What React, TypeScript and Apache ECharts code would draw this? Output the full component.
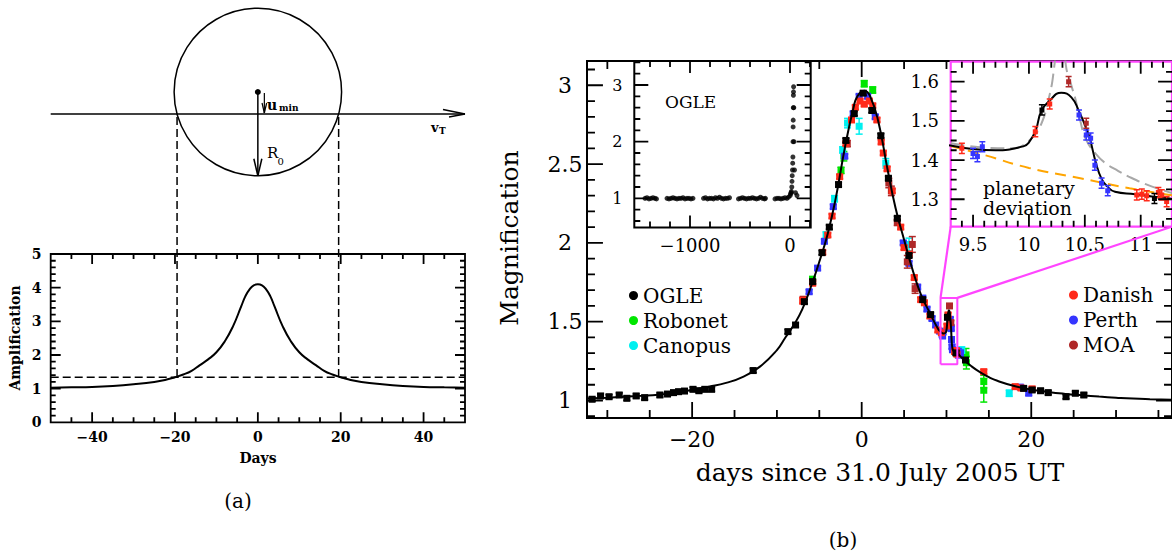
import React, { useEffect, useRef } from "react";
import * as echarts from "echarts";

const SERIF = '"DejaVu Serif", serif';

// ---------- Panel (a): point-lens amplification curve ----------
const ampDays = [-50, -45, -40, -35, -30, -25, -22, -20, -18, -16, -14, -12, -10, -8, -6, -4, -3, -2, -1, 0, 1, 2, 3, 4, 6, 8, 10, 12, 14, 16, 18, 20, 22, 25, 30, 35, 40, 45, 50];
const ampValues = [1.03, 1.04, 1.05, 1.08, 1.13, 1.2, 1.27, 1.34, 1.42, 1.53, 1.7, 1.87, 2.08, 2.4, 2.85, 3.45, 3.75, 3.95, 4.07, 4.1, 4.07, 3.95, 3.75, 3.45, 2.85, 2.4, 2.08, 1.87, 1.7, 1.53, 1.42, 1.34, 1.27, 1.2, 1.13, 1.08, 1.05, 1.04, 1.03];
const ampThreshold = 1.34;
const ampCrossDays = [-19.5, 19.5];
const AMP_X = [-50, 50];
const AMP_Y = [0, 5];
const ampXMajor = [-40, -20, 0, 20, 40];
const ampXMinor = [-45, -35, -30, -25, -15, -10, -5, 5, 10, 15, 25, 30, 35, 45];
const ampYLabels = [0, 1, 2, 3, 4, 5];
const ampYMajor = [1, 2, 3, 4];
const ampYMinor = [0.2, 0.4, 0.6, 0.8, 1.2, 1.4, 1.6, 1.8, 2.2, 2.4, 2.6, 2.8, 3.2, 3.4, 3.6, 3.8, 4.2, 4.4, 4.6, 4.8];

// ---------- Panel (b): OGLE-2005-BLG-390 light curve ----------
const MAIN_X = [-32.4, 36.6];
const MAIN_Y = [0.889, 3.154];
const mainXMajor = [-20, 0, 20];
const mainXMinor = [-30, -25, -15, -10, -5, 5, 10, 15, 25, 30, 35];
const mainYMajor = [1, 1.5, 2, 2.5, 3];
const mainYMinor = [0.9, 1.1, 1.2, 1.3, 1.4, 1.6, 1.7, 1.8, 1.9, 2.1, 2.2, 2.3, 2.4, 2.6, 2.7, 2.8, 2.9, 3.1];

// best-fit model (with planetary perturbation)
const modelDays = [-32.4, -30, -28, -26, -24, -22, -20, -18, -16, -14, -12, -10, -9, -8, -7, -6, -5, -4, -3, -2, -1, -0.5, 0.3, 1, 2, 3, 4, 5, 6, 7, 8, 9, 9.3, 9.5, 9.7, 9.95, 10.0, 10.06, 10.11, 10.18, 10.29, 10.38, 10.45, 10.5, 10.54, 10.6, 10.65, 10.7, 10.77, 10.95, 11.1, 11.26, 12, 13, 14, 15, 16, 18, 20, 22, 24, 26, 28, 30, 32, 34, 36.6];
const modelMag = [1.012, 1.018, 1.024, 1.03, 1.037, 1.048, 1.068, 1.088, 1.112, 1.15, 1.215, 1.32, 1.4, 1.48, 1.58, 1.72, 1.88, 2.06, 2.3, 2.6, 2.85, 2.93, 2.965, 2.93, 2.76, 2.48, 2.22, 2.02, 1.83, 1.67, 1.56, 1.455, 1.437, 1.428, 1.425, 1.435, 1.445, 1.475, 1.525, 1.55, 1.572, 1.56, 1.523, 1.49, 1.46, 1.392, 1.352, 1.333, 1.319, 1.313, 1.307, 1.302, 1.26, 1.215, 1.178, 1.148, 1.125, 1.092, 1.07, 1.054, 1.042, 1.033, 1.025, 1.018, 1.012, 1.008, 1.004];

// single-lens fit without planet, and the same fit forced through the peak
const noPlanetDays = [9.3, 9.6, 10.0, 10.47, 10.9, 11.28];
const noPlanetMag = [1.436, 1.413, 1.38, 1.353, 1.328, 1.31];
const peakFitDays = [9.3, 9.6, 9.85, 9.95, 10.03, 10.1, 10.18, 10.226, 10.285, 10.33, 10.38, 10.418, 10.46, 10.507, 10.6, 10.685, 10.8, 10.892, 11.05, 11.188, 11.28];
const peakFitMag = [1.443, 1.432, 1.43, 1.438, 1.458, 1.485, 1.56, 1.638, 1.8, 1.643, 1.59, 1.553, 1.5, 1.455, 1.415, 1.392, 1.372, 1.358, 1.338, 1.324, 1.316];

// photometry: [day, magnification, error]
const DEFAULT_ERR = 0.013;
const ogleData = [
  [-31.8, 1.008], [-30.8, 1.029], [-29.8, 1.024], [-28.6, 1.035], [-27.7, 1.014], [-26.6, 1.029], [-25.6, 1.018],
  [-23.8, 1.035], [-22.9, 1.041], [-22.2, 1.05], [-21.6, 1.056], [-20.9, 1.06], [-19.9, 1.071], [-19.2, 1.062], [-18.5, 1.071], [-17.7, 1.071],
  [-12.8, 1.19], [-8.7, 1.437], [-7.8, 1.479], [-6.76, 1.627], [-5.78, 1.754], [-4.68, 1.938], [-3.82, 2.1], [-2.73, 2.37], [-1.86, 2.65],
  [-0.88, 2.82], [0.18, 2.95], [1.2, 2.84], [2.26, 2.68], [3.15, 2.41], [4.2, 2.156], [5.58, 1.92], [7.2, 1.64], [8.13, 1.545],
  [10.116, 1.528], [11.123, 1.302], [12.24, 1.257], [19.1, 1.077], [20.1, 1.067], [21.1, 1.062], [22.0, 1.05], [24.1, 1.024], [25.2, 1.046], [26.2, 1.035],
];
const danishData = [
  [-6.96, 1.633, 0.02], [-5.78, 1.744], [-4.6, 1.94], [-4.0, 2.05], [-3.5, 2.17], [-2.6, 2.42], [-1.86, 2.63], [-1.2, 2.78], [-0.75, 2.86], [-0.2, 2.9],
  [0.3, 2.88], [0.9, 2.9], [1.3, 2.87], [1.8, 2.78], [2.3, 2.64], [2.55, 2.57], [3.0, 2.47], [3.6, 2.33], [4.6, 2.1], [5.0, 1.97], [5.6, 1.93],
  [6.2, 1.78], [6.96, 1.64], [7.4, 1.62], [8.05, 1.536], [8.99, 1.447], [9.4, 1.43],
  [10.057, 1.4725], [10.186, 1.543], [10.965, 1.311], [11.01, 1.313], [11.054, 1.309], [11.158, 1.317], [11.188, 1.311], [11.232, 1.294],
  [14.4, 1.183], [18.1, 1.088], [18.8, 1.08], [20.1, 1.074],
];
const perthData = [
  [-6.2, 1.69], [-5.2, 1.84], [-4.4, 2.01], [-3.35, 2.23], [-2.0, 2.55], [-1.0, 2.82], [-0.3, 2.93], [0.7, 2.93], [1.6, 2.8],
  [4.9, 2.0], [5.58, 1.87], [6.6, 1.72], [7.2, 1.65], [7.7, 1.58], [8.3, 1.52], [8.72, 1.479], [9.2, 1.44],
  [9.5, 1.417], [9.539, 1.409], [9.583, 1.434], [10.448, 1.515], [10.513, 1.464], [10.552, 1.456], [10.59, 1.387], [10.65, 1.341], [10.705, 1.322],
  [11.4, 1.3, 0.03], [11.65, 1.3, 0.02], [18.7, 1.085], [19.7, 1.046],
];
const robonetData = [
  [-5.8, 1.77], [-2.44, 2.46, 0.02], [-2.1, 2.55, 0.03], [0.3, 3.01, 0.02], [1.3, 2.97, 0.02],
  [12.3, 1.29, 0.04], [12.35, 1.24, 0.04], [14.4, 1.12, 0.04], [14.4, 1.065, 0.075],
];
const canopusData = [
  [-4.2, 2.05, 0.02], [-3.2, 2.28, 0.02], [-2.25, 2.59, 0.02], [-1.67, 2.76, 0.03], [-0.3, 2.74, 0.05], [2.84, 2.505, 0.03],
  [5.58, 1.99, 0.04], [11.8, 1.32, 0.02], [17.4, 1.046, 0.02],
];
const moaData = [
  [-6.9, 1.64, 0.02], [-1.7, 2.63, 0.02], [3.2, 2.38, 0.03], [3.5, 2.33, 0.03], [4.2, 2.13, 0.02], [5.38, 1.88, 0.04],
  [5.97, 1.99, 0.05], [6.3, 1.71, 0.03], [10.355, 1.6], [10.513, 1.494],
];

// full OGLE record (inset)
const OGLE_X = [-1557, 207];
const OGLE_Y = [0.485, 3.424];
const ogleXMajor = [-1000, 0];
const ogleXMinor = [-1400, -1200, -800, -600, -400, -200, 200];
const ogleYMajor = [1, 2, 3];
const ogleYMinor = [0.6, 0.8, 1.2, 1.4, 1.6, 1.8, 2.2, 2.4, 2.6, 2.8, 3.2, 3.4];
const ogleRecord = [
  [-1450, 1.0], [-1430, 1.01], [-1410, 0.99], [-1390, 1.0], [-1370, 1.01], [-1350, 1.0], [-1335, 0.99],
  [-1230, 1.0], [-1210, 0.99], [-1190, 1.0], [-1170, 1.01], [-1150, 1.0], [-1130, 0.99], [-1110, 1.0], [-1090, 1.0], [-1070, 1.01], [-1050, 0.99], [-1030, 1.0], [-1010, 1.0], [-990, 0.99], [-970, 1.0],
  [-865, 1.0], [-845, 1.01], [-825, 0.99], [-805, 1.0], [-785, 1.0], [-765, 0.99], [-745, 1.01], [-725, 1.0], [-705, 1.02], [-685, 1.0], [-665, 0.99], [-645, 1.0], [-625, 1.0], [-605, 1.01],
  [-515, 0.99], [-495, 1.0], [-475, 1.01], [-455, 1.0], [-435, 0.99], [-415, 1.0], [-395, 1.0], [-375, 1.01], [-355, 1.0], [-335, 0.99], [-315, 1.0], [-295, 1.02], [-275, 1.0], [-255, 0.99], [-245, 1.0],
  [-150, 0.99], [-130, 1.0], [-110, 1.0], [-90, 0.99], [-70, 1.0], [-50, 1.01], [-30, 1.0], [-15, 1.02],
  [2, 1.05], [6, 1.08], [10, 1.1], [14, 1.12], [18, 1.2], [20, 1.3], [22, 1.4], [25, 1.5], [27, 1.62], [29, 1.73], [30, 2.0],
  [31, 2.26], [32, 2.38], [33, 2.6], [34, 2.82], [35, 2.88], [36, 2.97], [38, 2.6], [40, 2.0], [45, 1.5], [55, 1.1], [70, 1.05],
];

// zoom on the planetary deviation (inset)
const INSET_X = [9.3, 11.28];
const INSET_Y = [1.23, 1.651];
const insetXMajor = [9.5, 10, 10.5, 11];
const insetXMinor = [9.4, 9.6, 9.7, 9.8, 9.9, 10.1, 10.2, 10.3, 10.4, 10.6, 10.7, 10.8, 10.9, 11.1, 11.2];
const insetYMajor = [1.3, 1.4, 1.5, 1.6];
const insetYMinor = [1.25, 1.275, 1.325, 1.35, 1.375, 1.425, 1.45, 1.475, 1.525, 1.55, 1.575, 1.625];

const COLORS: Record<string, string> = {
  OGLE: "#000000",
  Robonet: "#00e600",
  Canopus: "#00f0f0",
  Danish: "#ff2a1a",
  Perth: "#3535ff",
  MOA: "#b02828",
};
const MAGENTA = "#ff45ff";

const surveys = [
  { name: "Robonet", data: robonetData },
  { name: "Canopus", data: canopusData },
  { name: "Perth", data: perthData },
  { name: "MOA", data: moaData },
  { name: "Danish", data: danishData },
  { name: "OGLE", data: ogleData },
];

const fmt = (v: number) => (v < 0 ? "\u2212" + Math.abs(v) : String(v));
const pairs = (xs: number[], ys: number[]) => xs.map((x, i) => [x, ys[i]]);

type Side = {
  min: number; max: number; major: number[]; minor: number[]; labels: number[];
  majorLen: number; minorLen: number; font: any; margin: number; align?: string;
};

const ampFont = { fontFamily: SERIF, fontSize: 14, fontWeight: "bold" };
const mainFont = { fontFamily: SERIF, fontSize: 22 };
const insetFont = { fontFamily: SERIF, fontSize: 18 };

const ampX: Side = { min: AMP_X[0], max: AMP_X[1], major: ampXMajor, minor: ampXMinor, labels: ampXMajor, majorLen: 10, minorLen: 5, font: ampFont, margin: 8 };
const ampY: Side = { min: AMP_Y[0], max: AMP_Y[1], major: ampYMajor, minor: ampYMinor, labels: ampYLabels, majorLen: 10, minorLen: 5, font: ampFont, margin: 14, align: "center" };
const mainX: Side = { min: MAIN_X[0], max: MAIN_X[1], major: mainXMajor, minor: mainXMinor, labels: mainXMajor, majorLen: 16, minorLen: 8, font: mainFont, margin: 10 };
const mainY: Side = { min: MAIN_Y[0], max: MAIN_Y[1], major: mainYMajor, minor: mainYMinor, labels: mainYMajor, majorLen: 16, minorLen: 8, font: mainFont, margin: 22, align: "center" };
const ogleX: Side = { min: OGLE_X[0], max: OGLE_X[1], major: ogleXMajor, minor: ogleXMinor, labels: ogleXMajor, majorLen: 12, minorLen: 6, font: insetFont, margin: 9 };
const ogleY: Side = { min: OGLE_Y[0], max: OGLE_Y[1], major: ogleYMajor, minor: ogleYMinor, labels: ogleYMajor, majorLen: 14, minorLen: 6, font: { fontFamily: SERIF, fontSize: 16 }, margin: 17, align: "center" };
const insetXSide: Side = { min: INSET_X[0], max: INSET_X[1], major: insetXMajor, minor: insetXMinor, labels: insetXMajor, majorLen: 12, minorLen: 6, font: insetFont, margin: 9 };
const insetYSide: Side = { min: INSET_Y[0], max: INSET_Y[1], major: insetYMajor, minor: insetYMinor, labels: insetYMajor, majorLen: 14, minorLen: 6, font: insetFont, margin: 26, align: "center" };

// plot boxes: grid placement, axis sides and drawing depth
const PANELS = [
  { box: { left: 50.7, top: 254, width: 414.3, height: 168.3 }, xs: ampX, ys: ampY, border: "#000", bw: 1.8, bg: "transparent", z: 0 },
  { box: { left: 587, top: 61, width: 587.2, height: 357 }, xs: mainX, ys: mainY, border: "#000", bw: 2, bg: "transparent", z: 0 },
  { box: { left: 634.3, top: 61, width: 176.4, height: 166.5 }, xs: ogleX, ys: ogleY, border: "#000", bw: 2, bg: "#fff", z: 3 },
  { box: { left: 950.7, top: 61.7, width: 223, height: 165 }, xs: insetXSide, ys: insetYSide, border: MAGENTA, bw: 2.2, bg: "#fff", z: 3 },
];

function labelAxis(gridIndex: number, s: Side, position: string) {
  const label: any = { show: true, customValues: s.labels, formatter: fmt, margin: s.margin, color: "#000", ...s.font };
  if (s.align) label.align = s.align;
  return {
    type: "value", gridIndex, position, min: s.min, max: s.max,
    splitLine: { show: false }, axisLine: { show: false, onZero: false }, axisTick: { show: false },
    axisLabel: label,
  };
}

// inward tick marks on all four sides, as short segments in the plot's own data units
function tickSeries(axes: any, p: any, z: number) {
  const { xs, ys, box } = p;
  const dx = (len: number) => (len * (xs.max - xs.min)) / box.width;
  const dy = (len: number) => (len * (ys.max - ys.min)) / box.height;
  const data: any[] = [];
  const xTick = (v: number, len: number) => {
    data.push([v, ys.min], [v, ys.min + dy(len)], null, [v, ys.max], [v, ys.max - dy(len)], null);
  };
  const yTick = (v: number, len: number) => {
    data.push([xs.min, v], [xs.min + dx(len), v], null, [xs.max, v], [xs.max - dx(len), v], null);
  };
  xs.major.forEach((v: number) => xTick(v, xs.majorLen));
  xs.minor.forEach((v: number) => xTick(v, xs.minorLen));
  ys.major.forEach((v: number) => yTick(v, ys.majorLen));
  ys.minor.forEach((v: number) => yTick(v, ys.minorLen));
  return {
    type: "line", ...axes, z, data, showSymbol: false, connectNulls: false, clip: false, silent: true,
    lineStyle: { color: "#000", width: 1.8, cap: "butt" },
  };
}

function errorBarSeries(name: string, pts: number[][], axes: any, size: number, cap: number, z: number) {
  const color = COLORS[name];
  return {
    type: "custom", name, ...axes, z, clip: true,
    itemStyle: { color },
    encode: { x: 0, y: 1 },
    data: pts.map((p) => [p[0], p[1], p.length > 2 ? p[2] : DEFAULT_ERR]),
    renderItem: (_params: any, api: any) => {
      const x = api.value(0), y = api.value(1), e = api.value(2);
      const c = api.coord([x, y]);
      const hi = api.coord([x, y + e]);
      const lo = api.coord([x, y - e]);
      const st = { stroke: color, lineWidth: 1.5 };
      return {
        type: "group",
        children: [
          { type: "line", shape: { x1: c[0], y1: hi[1], x2: c[0], y2: lo[1] }, style: st },
          { type: "line", shape: { x1: c[0] - cap, y1: hi[1], x2: c[0] + cap, y2: hi[1] }, style: st },
          { type: "line", shape: { x1: c[0] - cap, y1: lo[1], x2: c[0] + cap, y2: lo[1] }, style: st },
          { type: "rect", shape: { x: c[0] - size / 2, y: c[1] - size / 2, width: size, height: size }, style: { fill: color } },
        ],
      };
    },
  };
}

function buildOption() {
  const xAxis: any[] = [];
  const yAxis: any[] = [];
  const axesFor = PANELS.map((p, g) => {
    const ix = xAxis.length, iy = yAxis.length;
    xAxis.push(labelAxis(g, p.xs, "bottom"));
    yAxis.push(labelAxis(g, p.ys, "left"));
    return { xAxisIndex: ix, yAxisIndex: iy };
  });
  const [ampAxes, mainAxes, ogleAxes, insetAxes] = axesFor;

  const series: any[] = [
    // panel (a)
    tickSeries(ampAxes, PANELS[0], 1),
    { type: "line", ...ampAxes, data: pairs(ampDays, ampValues), smooth: true, showSymbol: false, lineStyle: { color: "#000", width: 2 }, z: 2 },
    { type: "line", ...ampAxes, data: [[AMP_X[0], ampThreshold], [AMP_X[1], ampThreshold]], showSymbol: false, lineStyle: { color: "#000", width: 1.5, type: [8, 4] }, z: 2 },
    // main light curve
    tickSeries(mainAxes, PANELS[1], 1),
    { type: "line", ...mainAxes, data: pairs(modelDays, modelMag), smooth: true, showSymbol: false, lineStyle: { color: "#000", width: 2 }, z: 2 },
    {
      type: "line", ...mainAxes, showSymbol: false, z: 3, lineStyle: { color: MAGENTA, width: 2 },
      data: [[INSET_X[0], INSET_Y[0]], [INSET_X[1], INSET_Y[0]], [INSET_X[1], INSET_Y[1]], [INSET_X[0], INSET_Y[1]], [INSET_X[0], INSET_Y[0]]],
    },
    ...surveys.map((s) => errorBarSeries(s.name, s.data, mainAxes, 7, 3.5, 2)),
    // OGLE full record
    tickSeries(ogleAxes, PANELS[2], 6),
    { type: "scatter", name: "OGLE", ...ogleAxes, data: ogleRecord, symbol: "circle", symbolSize: 5, itemStyle: { color: "#000" }, z: 5 },
    // planetary deviation zoom
    tickSeries(insetAxes, PANELS[3], 6),
    { type: "line", ...insetAxes, data: pairs(noPlanetDays, noPlanetMag), smooth: true, showSymbol: false, lineStyle: { color: "#ffa500", width: 2, type: [11, 7] }, z: 5 },
    { type: "line", ...insetAxes, data: pairs(peakFitDays, peakFitMag), smooth: true, showSymbol: false, lineStyle: { color: "#a8a8a8", width: 2, type: [14, 6] }, z: 5 },
    { type: "line", ...insetAxes, data: pairs(modelDays, modelMag), smooth: true, showSymbol: false, lineStyle: { color: "#000", width: 2 }, z: 5 },
    ...surveys.map((s) => errorBarSeries(s.name, s.data, insetAxes, 5, 3, 6)),
  ];

  const legendText = { fontFamily: SERIF, fontSize: 20, color: "#000", lineHeight: 20 };
  return {
    animation: false,
    backgroundColor: "#fff",
    grid: PANELS.map((p) => ({
      ...p.box, show: true, borderColor: p.border, borderWidth: p.bw, backgroundColor: p.bg, z: p.z,
    })),
    xAxis,
    yAxis,
    legend: [
      {
        data: ["OGLE", "Robonet", "Canopus"], orient: "vertical", left: 624, top: 280.5, icon: "circle",
        itemWidth: 9, itemHeight: 9, itemGap: 5, selectedMode: false, textStyle: legendText,
      },
      {
        data: ["Danish", "Perth", "MOA"], orient: "vertical", left: 1064, top: 280, icon: "circle",
        itemWidth: 9, itemHeight: 9, itemGap: 5, selectedMode: false, textStyle: legendText,
      },
    ],
    series,
  };
}

function buildGraphics(chart: any) {
  const px = (g: number, v: number[]) => chart.convertToPixel({ gridIndex: g }, v) as number[];
  const els: any[] = [];
  const ln = (x1: number, y1: number, x2: number, y2: number, o: any = {}) =>
    els.push({
      type: "line", z: 20, silent: true, shape: { x1, y1, x2, y2 },
      style: { stroke: o.stroke || "#000", lineWidth: o.w || 1.5, lineDash: o.dash || null },
    });
  const tx = (text: string, x: number, y: number, font: string, o: any = {}) =>
    els.push({
      type: "text", z: 20, silent: true, x, y, rotation: o.rot || 0,
      style: {
        text, font, fill: "#000",
        textAlign: o.align || "center", textVerticalAlign: "middle",
        align: o.align || "center", verticalAlign: "middle",
      },
    });

  // --- lens geometry above panel (a)
  const xl = px(0, [AMP_X[0], 0])[0];
  const xr = px(0, [AMP_X[1], 0])[0];
  const x0 = px(0, [0, 0])[0];
  const cl = px(0, [ampCrossDays[0], ampThreshold]);
  const cr = px(0, [ampCrossDays[1], ampThreshold]);
  const trackY = 114;
  const lensY = 92;
  const half = (cr[0] - cl[0]) / 2;
  const r = Math.hypot(half, trackY - lensY);
  els.push({ type: "circle", z: 20, silent: true, shape: { cx: (cl[0] + cr[0]) / 2, cy: lensY, r }, style: { fill: "none", stroke: "#000", lineWidth: 1.5 } });
  ln(xl, trackY, xr, trackY);
  ln(xr - 22, trackY - 4.5, xr, trackY);
  ln(xr - 16, trackY + 3, xr, trackY);
  // R0 arrow
  ln(x0, lensY, x0, lensY + r);
  ln(x0 - 4, lensY + r - 17, x0, lensY + r);
  ln(x0 + 4, lensY + r - 17, x0, lensY + r);
  els.push({ type: "circle", z: 21, silent: true, shape: { cx: x0, cy: lensY, r: 3 }, style: { fill: "#000" } });
  // u_min arrow
  const ux = x0 + 6.5;
  ln(ux, lensY + 1, ux, trackY - 1, { w: 1.2 });
  ln(ux - 2.3, trackY - 11, ux, trackY - 1, { w: 1.2 });
  ln(ux + 2.3, trackY - 11, ux, trackY - 1, { w: 1.2 });
  tx("u", 267, 105, `bold 14px ${SERIF}`, { align: "left" });
  tx("min", 279, 108, `bold 9px ${SERIF}`, { align: "left" });
  tx("R", 267, 153, `15px ${SERIF}`, { align: "left" });
  tx("0", 277.5, 161, `10px ${SERIF}`, { align: "left" });
  tx("v", 431, 127, `bold 13px ${SERIF}`, { align: "left" });
  tx("T", 439, 131, `bold 9px ${SERIF}`, { align: "left" });
  // projection of the Einstein ring onto the time axis
  ln(cl[0], trackY + 3, cl[0], cl[1], { dash: [8, 4] });
  ln(cr[0], trackY + 3, cr[0], cr[1], { dash: [8, 4] });

  // --- axis titles and annotations
  tx("Amplification", 15, 338, `bold 14px ${SERIF}`, { rot: Math.PI / 2 });
  tx("Days", 258, 458, `bold 14px ${SERIF}`);
  tx("Magnification", 509, 238, `25px ${SERIF}`, { rot: Math.PI / 2 });
  tx("days since 31.0 July 2005 UT", 880, 472, `25px ${SERIF}`);
  tx("OGLE", 665, 102, `17px ${SERIF}`, { align: "left" });
  tx("planetary", 983, 188, `19px ${SERIF}`, { align: "left" });
  tx("deviation", 983, 208, `19px ${SERIF}`, { align: "left" });
  tx("(a)", 238, 501, `20px ${SERIF}`);
  tx("(b)", 843, 540, `20px ${SERIF}`);

  // --- connectors from the zoom box to the deviation inset
  const a = px(1, [INSET_X[0], INSET_Y[1]]);
  const b = px(3, [INSET_X[0], INSET_Y[0]]);
  const c = px(1, [INSET_X[1], INSET_Y[1]]);
  const d = px(3, [INSET_X[1], INSET_Y[0]]);
  ln(a[0], a[1], b[0], b[1], { stroke: MAGENTA, w: 2.2 });
  ln(c[0], c[1], d[0], d[1], { stroke: MAGENTA, w: 2.2 });

  return els;
}

export default function App() {
  const ref = useRef<HTMLDivElement>(null);
  useEffect(() => {
    if (!ref.current) return;
    const chart = echarts.init(ref.current, null, { renderer: "svg" });
    chart.setOption(buildOption() as any);
    chart.setOption({ graphic: { elements: buildGraphics(chart) } } as any);
    return () => chart.dispose();
  }, []);
  return (
    <div
      ref={ref}
      style={{ position: "absolute", left: 0, top: 0, width: 1172, height: 556, background: "#fff" }}
    />
  );
}
